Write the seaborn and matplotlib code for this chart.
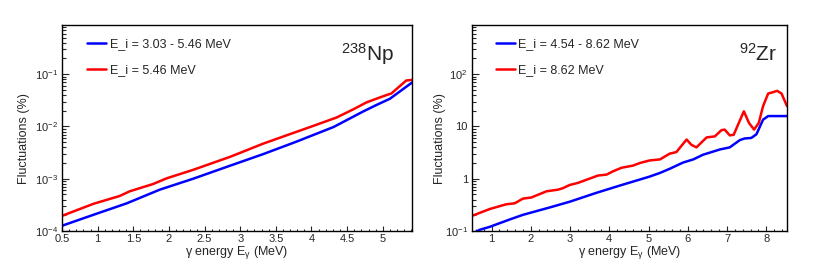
import matplotlib
matplotlib.use('Agg')
import matplotlib.pyplot as plt
import matplotlib.ticker as mticker
import pandas as pd
import seaborn as sns

## DATOS

# 238Np
np_e_blue = [0.5, 0.94, 1.41, 1.87, 2.34, 2.86, 3.32, 3.79, 4.31, 4.73, 4.91, 5.10, 5.41]
np_fl_blue = [1.26e-4, 2.04e-4, 3.39e-4, 6.17e-4, 1.00e-3, 1.78e-3, 2.95e-3, 5.13e-3,
              9.77e-3, 1.95e-2, 2.57e-2, 3.39e-2, 6.92e-2]
np_e_red = [0.5, 0.94, 1.31, 1.45, 1.78, 1.97, 2.34, 2.86, 3.32, 3.65, 4.02, 4.35, 4.59,
            4.77, 4.87, 5.05, 5.12, 5.33, 5.41]
np_fl_red = [1.95e-4, 3.31e-4, 4.68e-4, 5.75e-4, 7.94e-4, 1.02e-3, 1.48e-3, 2.63e-3,
             4.68e-3, 6.76e-3, 1.02e-2, 1.48e-2, 2.14e-2, 2.88e-2, 3.24e-2, 3.98e-2,
             4.27e-2, 7.59e-2, 7.76e-2]

# 92Zr
zr_e_blue = [0.5, 0.69, 0.95, 1.46, 1.80, 2.48, 2.99, 3.67, 4.27, 5.03, 5.29, 5.54, 5.88,
             6.14, 6.39, 6.82, 7.07, 7.33, 7.45, 7.62, 7.75, 7.92, 8.05, 8.53]
zr_fl_blue = [0.088, 0.105, 0.120, 0.166, 0.204, 0.282, 0.363, 0.537, 0.741, 1.10, 1.29,
              1.55, 2.04, 2.34, 2.88, 3.63, 3.98, 5.50, 5.89, 6.03, 7.08, 13.5, 15.8, 15.8]
zr_e_red = [0.5, 0.95, 1.37, 1.59, 1.80, 2.01, 2.40, 2.69, 2.82, 2.99, 3.20, 3.71, 3.93,
            4.09, 4.31, 4.60, 4.78, 5.03, 5.29, 5.54, 5.71, 5.97, 6.09, 6.22, 6.48, 6.69,
            6.86, 6.94, 7.07, 7.17, 7.43, 7.56, 7.69, 7.81, 7.92, 8.05, 8.15, 8.28, 8.39, 8.53]
zr_fl_red = [0.195, 0.263, 0.324, 0.339, 0.417, 0.437, 0.575, 0.617, 0.661, 0.759, 0.832,
             1.15, 1.20, 1.38, 1.62, 1.78, 2.00, 2.24, 2.34, 3.02, 3.24, 5.62, 4.47, 3.98,
             6.17, 6.46, 8.51, 8.71, 6.76, 6.92, 19.5, 11.7, 8.71, 11.7, 24.5, 42.7, 44.7,
             48.0, 42.7, 24.5]

np_labels = ['E_i = 3.03 - 5.46 MeV', 'E_i = 5.46 MeV']
zr_labels = ['E_i = 4.54 - 8.62 MeV', 'E_i = 8.62 MeV']

sns.set_style('ticks')
plt.rcParams['font.family'] = ['Liberation Sans', 'DejaVu Sans']
plt.rcParams['mathtext.fontset'] = 'custom'
plt.rcParams['mathtext.rm'] = 'Liberation Sans'
plt.rcParams['mathtext.it'] = 'Liberation Sans:italic'

fig = plt.figure(figsize=(8.3, 2.64), dpi=100)
ax1 = fig.add_axes([0.0747, 0.125, 0.4217, 0.78])
ax2 = fig.add_axes([0.5687, 0.125, 0.3795, 0.78])


def panel(ax, e_b, f_b, e_r, f_r, labels, xlim, ylim, iso, iso_x, xminor, ylab_x):
    df_b = pd.DataFrame({'E': e_b, 'F': f_b})
    df_r = pd.DataFrame({'E': e_r, 'F': f_r})
    sns.lineplot(data=df_b, x='E', y='F', color='#0000ff', lw=1.8, label=labels[0], ax=ax,
                 estimator=None)
    sns.lineplot(data=df_r, x='E', y='F', color='#ff0000', lw=1.8, label=labels[1], ax=ax,
                 estimator=None)
    ax.set_yscale('log')
    ax.set_xlim(*xlim)
    ax.set_ylim(*ylim)
    ax.yaxis.set_major_locator(mticker.LogLocator(base=10, numticks=10))
    ax.yaxis.set_minor_locator(mticker.LogLocator(base=10, subs=range(2, 10), numticks=20))
    ax.yaxis.set_minor_formatter(mticker.NullFormatter())
    ax.xaxis.set_minor_locator(mticker.MultipleLocator(xminor))
    ax.tick_params(axis='both', which='both', direction='in', top=False, right=False,
                   labelsize=8, width=0.8)
    ax.tick_params(axis='y', which='major', length=5, pad=3)
    ax.tick_params(axis='y', which='minor', length=2.8)
    ax.tick_params(axis='x', which='major', length=3.6, pad=2.5)
    ax.tick_params(axis='x', which='minor', length=1.8)
    for s in ax.spines.values():
        s.set_linewidth(1.0)
        s.set_color('black')
    ax.set_xlabel('γ energy E$_{\\mathrm{γ}}$ (MeV)', fontsize=9, labelpad=0)
    ax.set_ylabel('Fluctuations (%)', fontsize=9)
    ax.yaxis.set_label_coords(ylab_x, 0.45)
    ax.legend(loc='upper left', bbox_to_anchor=(0.04, 0.99), frameon=False, fontsize=9,
              handlelength=1.5, handletextpad=0.3, labelspacing=1.1, borderaxespad=0.5)
    ax.text(iso_x, 0.86, iso, transform=ax.transAxes, ha='right', va='center', fontsize=15)


panel(ax1, np_e_blue, np_fl_blue, np_e_red, np_fl_red, np_labels,
      (0.5, 5.41), (1e-4, 0.87), r'$^{238}$Np', 0.947, 0.1, -0.091)
panel(ax2, zr_e_blue, zr_fl_blue, zr_e_red, zr_fl_red, zr_labels,
      (0.5, 8.53), (0.1, 870), r'$^{92}$Zr', 0.97, 0.2, -0.083)

ax1.xaxis.set_major_locator(mticker.MultipleLocator(0.5))
ax1.xaxis.set_major_formatter(mticker.FuncFormatter(lambda v, p: f'{v:g}'))
ax2.xaxis.set_major_locator(mticker.MultipleLocator(1))
zr_ticks = {0.1: r'$10^{-1}$', 1: '1', 10: '10', 100: r'$10^{2}$'}
ax2.yaxis.set_major_formatter(mticker.FuncFormatter(
    lambda v, p: zr_ticks.get(round(v, 3) if v < 1 else round(v), '')))

fig.savefig('out.png', dpi=100)
